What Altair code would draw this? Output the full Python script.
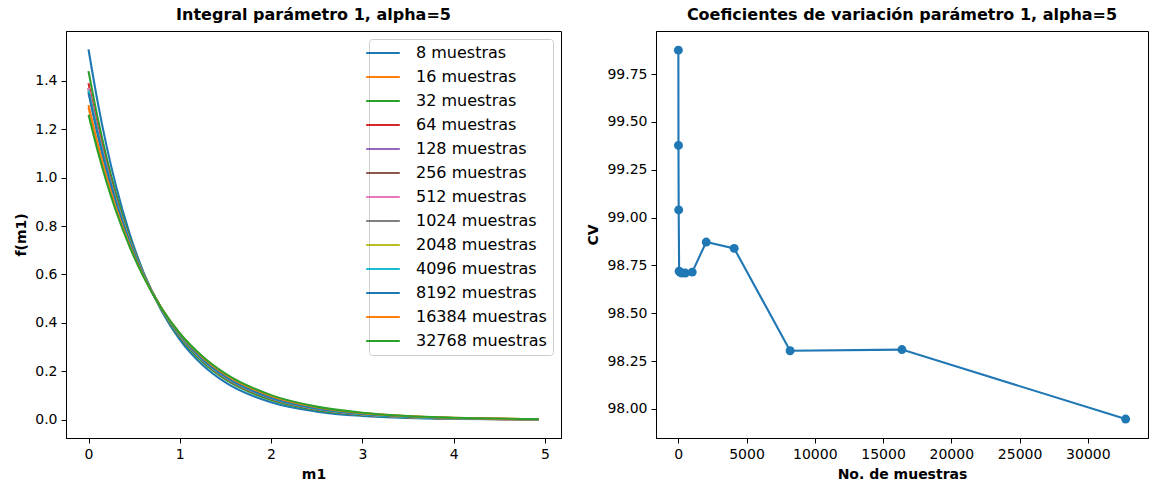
import altair as alt
import pandas as pd

# Evaluation points along m1 for the density curves
m1_grid = [0.0, 0.1, 0.2, 0.3, 0.45, 0.6, 0.8, 1.0, 1.25, 1.5, 2.0, 2.5, 3.0, 3.5, 4.0, 4.93]

# Estimated density f(m1) for each sample size
f_8 = [1.530, 1.313, 1.127, 0.967, 0.769, 0.611, 0.450, 0.331, 0.226, 0.154, 0.0717, 0.0334, 0.0155, 0.0072, 0.0034, 0.0008]
f_16 = [1.300, 1.142, 1.002, 0.880, 0.724, 0.596, 0.460, 0.354, 0.256, 0.185, 0.0966, 0.0504, 0.0263, 0.0137, 0.0072, 0.0021]
f_32 = [1.440, 1.247, 1.080, 0.935, 0.753, 0.607, 0.455, 0.341, 0.238, 0.166, 0.0808, 0.0393, 0.0192, 0.0093, 0.0045, 0.0012]
f_64 = [1.390, 1.210, 1.053, 0.916, 0.744, 0.604, 0.457, 0.346, 0.245, 0.173, 0.0862, 0.0430, 0.0215, 0.0107, 0.0054, 0.0015]
f_128 = [1.370, 1.195, 1.042, 0.908, 0.740, 0.602, 0.458, 0.348, 0.247, 0.175, 0.0885, 0.0446, 0.0225, 0.0113, 0.0057, 0.0016]
f_256 = [1.370, 1.195, 1.042, 0.908, 0.740, 0.602, 0.458, 0.348, 0.247, 0.175, 0.0885, 0.0446, 0.0225, 0.0113, 0.0057, 0.0016]
f_512 = [1.370, 1.195, 1.042, 0.908, 0.740, 0.602, 0.458, 0.348, 0.247, 0.175, 0.0885, 0.0446, 0.0225, 0.0113, 0.0057, 0.0016]
f_1024 = [1.360, 1.187, 1.036, 0.904, 0.738, 0.601, 0.458, 0.349, 0.248, 0.177, 0.0896, 0.0454, 0.0230, 0.0116, 0.0059, 0.0017]
f_2048 = [1.360, 1.187, 1.036, 0.904, 0.738, 0.601, 0.458, 0.349, 0.248, 0.177, 0.0896, 0.0454, 0.0230, 0.0116, 0.0059, 0.0017]
f_4096 = [1.360, 1.187, 1.036, 0.904, 0.738, 0.601, 0.458, 0.349, 0.248, 0.177, 0.0896, 0.0454, 0.0230, 0.0116, 0.0059, 0.0017]
f_8192 = [1.350, 1.180, 1.031, 0.900, 0.735, 0.601, 0.458, 0.350, 0.250, 0.178, 0.0907, 0.0462, 0.0235, 0.0120, 0.0061, 0.0017]
f_16384 = [1.290, 1.134, 0.997, 0.876, 0.722, 0.595, 0.460, 0.355, 0.257, 0.186, 0.0977, 0.0513, 0.0269, 0.0141, 0.0074, 0.0022]
f_32768 = [1.260, 1.111, 0.979, 0.863, 0.715, 0.592, 0.460, 0.357, 0.261, 0.190, 0.1014, 0.0540, 0.0288, 0.0153, 0.0082, 0.0025]

sample_sizes = [8, 16, 32, 64, 128, 256, 512, 1024, 2048, 4096, 8192, 16384, 32768]
curves = [f_8, f_16, f_32, f_64, f_128, f_256, f_512, f_1024, f_2048, f_4096, f_8192, f_16384, f_32768]

# Coefficient of variation per sample size
cv_values = [99.875, 99.377, 99.04, 98.72, 98.715, 98.71, 98.71, 98.715, 98.872, 98.839, 98.304, 98.31, 97.947]

tab10 = ["#1f77b4", "#ff7f0e", "#2ca02c", "#d62728", "#9467bd", "#8c564b",
         "#e377c2", "#7f7f7f", "#bcbd22", "#17becf"]

labels = [f"{n} muestras" for n in sample_sizes]
colors = [tab10[i % len(tab10)] for i in range(len(labels))]

rows = []
for order, (label, values) in enumerate(zip(labels, curves)):
    for x, y in zip(m1_grid, values):
        rows.append({"serie": label, "orden": order, "m1": x, "f": y})
dens_df = pd.DataFrame(rows)

cv_df = pd.DataFrame({"n": sample_sizes, "cv": cv_values})

FONT = "DejaVu Sans"

left = alt.Chart(dens_df).mark_line(strokeWidth=2.1, interpolate="monotone").encode(
    x=alt.X("m1:Q", title="m1",
            scale=alt.Scale(domain=[-0.2465, 5.1765], nice=False, zero=False),
            axis=alt.Axis(values=[0, 1, 2, 3, 4, 5], format="d")),
    y=alt.Y("f:Q", title="f(m1)",
            scale=alt.Scale(domain=[-0.0757, 1.6057], nice=False, zero=False),
            axis=alt.Axis(values=[0, 0.2, 0.4, 0.6, 0.8, 1.0, 1.2, 1.4], format=".1f")),
    color=alt.Color("serie:N",
                    scale=alt.Scale(domain=labels, range=colors),
                    sort=labels,
                    legend=alt.Legend(title=None, orient="top-right", offset=8,
                                      labelFont=FONT, labelFontSize=16, labelColor="black",
                                      symbolType="M-4.2,0H4.2", symbolSize=64,
                                      symbolStrokeWidth=2.1, labelOffset=25,
                                      strokeColor="#cccccc", fillColor="white",
                                      cornerRadius=3, padding=6, rowPadding=8,
                                      labelLimit=0)),
    order=alt.Order("orden:Q"),
).properties(
    width=495, height=407,
    title="Integral parámetro 1, alpha=5",
)

right_base = alt.Chart(cv_df).encode(
    x=alt.X("n:Q", title="No. de muestras",
            scale=alt.Scale(domain=[-1630, 34406], nice=False, zero=False),
            axis=alt.Axis(values=[0, 5000, 10000, 15000, 20000, 25000, 30000], format="d")),
    y=alt.Y("cv:Q", title="CV",
            scale=alt.Scale(domain=[97.848, 99.975], nice=False, zero=False),
            axis=alt.Axis(values=[98.0, 98.25, 98.5, 98.75, 99.0, 99.25, 99.5, 99.75], format=".2f")),
)
right = alt.layer(
    right_base.mark_line(color="#1f77b4", strokeWidth=2.1),
    right_base.mark_circle(color="#1f77b4", size=80, opacity=1),
).properties(
    width=492, height=407,
    title="Coeficientes de variación parámetro 1, alpha=5",
)

chart = alt.hconcat(left, right, spacing=24).resolve_legend(
    color="independent",
).properties(
    padding={"left": 14, "top": 6, "right": 0, "bottom": 0},
).configure(
    background="white",
).configure_view(
    stroke="black", strokeWidth=1,
).configure_axis(
    labelFont=FONT, labelFontSize=14, labelColor="black",
    titleFont=FONT, titleFontSize=14, titleFontWeight="bold", titleColor="black",
    tickColor="black", tickSize=5, labelPadding=4, titlePadding=6,
    domainColor="black", grid=False,
).configure_title(
    font=FONT, fontSize=16, fontWeight="bold", color="black", offset=8,
)

chart.save("out.html", embed_options={"renderer": "svg", "actions": False})
